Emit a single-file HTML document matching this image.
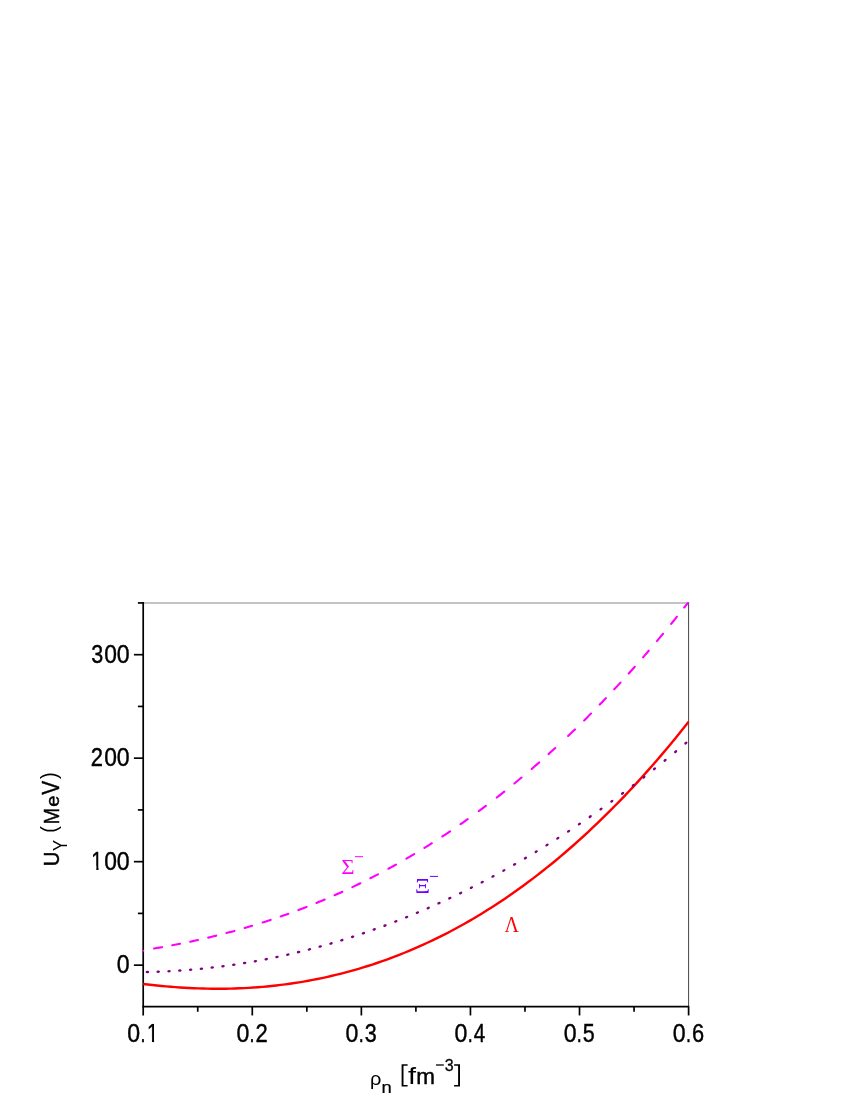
<!DOCTYPE html>
<html><head><meta charset="utf-8"><style>
html,body{margin:0;padding:0;background:#fff;}
svg{display:block;font-family:"Liberation Sans",sans-serif;}
.k{stroke:#000;stroke-width:0.25px;}
</style></head><body>
<svg width="850" height="1100" viewBox="0 0 850 1100">
<defs><clipPath id="one"><path d="M7 -75 L35.2 -75 L35.2 2 L24.6 2 L24.6 -13.5 L7 -13.5 Z"/></clipPath><clipPath id="plot"><rect x="142.7" y="602.25" width="546.4000000000001" height="403.5999999999999"/></clipPath></defs>
<rect width="850" height="1100" fill="#fff"/>
<line x1="143.2" y1="602.95" x2="689.1" y2="602.95" stroke="#b0b0b0" stroke-width="1.4"/>
<line x1="688.6" y1="602.45" x2="688.6" y2="1006.55" stroke="#444" stroke-width="1"/>
<line x1="143.2" y1="602.1" x2="143.2" y2="1015.4499999999999" stroke="#000" stroke-width="1.7"/>
<line x1="142.35" y1="1006.55" x2="689.2" y2="1006.55" stroke="#000" stroke-width="1.7"/>
<line x1="133.89999999999998" y1="965.16" x2="143.2" y2="965.16" stroke="#000" stroke-width="1.7"/>
<line x1="133.89999999999998" y1="861.67" x2="143.2" y2="861.67" stroke="#000" stroke-width="1.7"/>
<line x1="133.89999999999998" y1="758.18" x2="143.2" y2="758.18" stroke="#000" stroke-width="1.7"/>
<line x1="133.89999999999998" y1="654.69" x2="143.2" y2="654.69" stroke="#000" stroke-width="1.7"/>
<line x1="137.89999999999998" y1="913.41" x2="143.2" y2="913.41" stroke="#000" stroke-width="1.7"/>
<line x1="137.89999999999998" y1="809.92" x2="143.2" y2="809.92" stroke="#000" stroke-width="1.7"/>
<line x1="137.89999999999998" y1="706.44" x2="143.2" y2="706.44" stroke="#000" stroke-width="1.7"/>
<line x1="137.89999999999998" y1="602.95" x2="143.2" y2="602.95" stroke="#000" stroke-width="1.7"/>
<line x1="252.28" y1="1006.55" x2="252.28" y2="1015.4499999999999" stroke="#000" stroke-width="1.7"/>
<line x1="361.36" y1="1006.55" x2="361.36" y2="1015.4499999999999" stroke="#000" stroke-width="1.7"/>
<line x1="470.44" y1="1006.55" x2="470.44" y2="1015.4499999999999" stroke="#000" stroke-width="1.7"/>
<line x1="579.52" y1="1006.55" x2="579.52" y2="1015.4499999999999" stroke="#000" stroke-width="1.7"/>
<line x1="688.60" y1="1006.55" x2="688.60" y2="1015.4499999999999" stroke="#000" stroke-width="1.7"/>
<line x1="197.74" y1="1006.55" x2="197.74" y2="1011.75" stroke="#000" stroke-width="1.7"/>
<line x1="306.82" y1="1006.55" x2="306.82" y2="1011.75" stroke="#000" stroke-width="1.7"/>
<line x1="415.90" y1="1006.55" x2="415.90" y2="1011.75" stroke="#000" stroke-width="1.7"/>
<line x1="524.98" y1="1006.55" x2="524.98" y2="1011.75" stroke="#000" stroke-width="1.7"/>
<line x1="634.06" y1="1006.55" x2="634.06" y2="1011.75" stroke="#000" stroke-width="1.7"/>
<path d="M143.20,983.94 L147.78,984.50 L152.37,985.03 L156.95,985.53 L161.53,985.99 L166.12,986.41 L170.70,986.81 L175.28,987.16 L179.87,987.48 L184.45,987.77 L189.03,988.02 L193.62,988.23 L198.20,988.41 L202.78,988.55 L207.36,988.65 L211.95,988.72 L216.53,988.75 L221.11,988.74 L225.70,988.69 L230.28,988.60 L234.86,988.47 L239.45,988.30 L244.03,988.09 L248.61,987.84 L253.20,987.55 L257.78,987.22 L262.36,986.85 L266.95,986.43 L271.53,985.98 L276.11,985.48 L280.70,984.93 L285.28,984.35 L289.86,983.72 L294.45,983.04 L299.03,982.33 L303.61,981.56 L308.19,980.76 L312.78,979.90 L317.36,979.00 L321.94,978.06 L326.53,977.07 L331.11,976.03 L335.69,974.94 L340.28,973.81 L344.86,972.63 L349.44,971.40 L354.03,970.12 L358.61,968.79 L363.19,967.42 L367.78,965.99 L372.36,964.52 L376.94,962.99 L381.53,961.41 L386.11,959.79 L390.69,958.11 L395.28,956.38 L399.86,954.59 L404.44,952.76 L409.03,950.87 L413.61,948.93 L418.19,946.93 L422.77,944.88 L427.36,942.78 L431.94,940.62 L436.52,938.41 L441.11,936.14 L445.69,933.82 L450.27,931.44 L454.86,929.00 L459.44,926.51 L464.02,923.96 L468.61,921.35 L473.19,918.69 L477.77,915.96 L482.36,913.18 L486.94,910.34 L491.52,907.44 L496.11,904.48 L500.69,901.47 L505.27,898.39 L509.86,895.25 L514.44,892.05 L519.02,888.79 L523.61,885.46 L528.19,882.08 L532.77,878.63 L537.35,875.12 L541.94,871.55 L546.52,867.91 L551.10,864.21 L555.69,860.45 L560.27,856.62 L564.85,852.72 L569.44,848.77 L574.02,844.74 L578.60,840.65 L583.19,836.50 L587.77,832.27 L592.35,827.98 L596.94,823.63 L601.52,819.20 L606.10,814.71 L610.69,810.15 L615.27,805.52 L619.85,800.82 L624.44,796.06 L629.02,791.22 L633.60,786.31 L638.18,781.34 L642.77,776.29 L647.35,771.17 L651.93,765.98 L656.52,760.72 L661.10,755.38 L665.68,749.97 L670.27,744.49 L674.85,738.94 L679.43,733.31 L684.02,727.61 L688.60,721.84" fill="none" stroke="#ff0000" stroke-width="2.4"/>
<path d="M154.05,948.53 L156.72,948.08 L159.38,947.63 L162.05,947.16 M172.25,945.30 L174.85,944.81 L177.45,944.30 L180.05,943.79 M190.25,941.69 L192.82,941.14 L195.38,940.58 L197.95,940.01 M208.25,937.64 L210.92,937.00 L213.58,936.35 L216.25,935.69 M226.45,933.07 L229.12,932.36 L231.78,931.64 L234.45,930.91 M244.65,928.02 L247.12,927.29 L249.58,926.56 L252.05,925.82 M262.65,922.52 L265.32,921.67 L267.98,920.80 L270.65,919.92 M280.75,916.48 L283.28,915.59 L285.82,914.69 L288.35,913.78 M298.45,910.05 L301.15,909.02 L303.85,907.98 L306.55,906.93 M316.45,902.96 L319.18,901.84 L321.92,900.70 L324.65,899.55 M334.65,895.22 L337.22,894.08 L339.78,892.93 L342.35,891.76 M352.35,887.11 L355.02,885.84 L357.68,884.55 L360.35,883.26 M370.45,878.22 L372.95,876.94 L375.45,875.65 L377.95,874.35 M388.45,868.74 L390.95,867.38 L393.45,866.00 L395.95,864.61 M406.45,858.63 L409.02,857.13 L411.58,855.62 L414.15,854.10 M424.45,847.85 L426.92,846.32 L429.38,844.78 L431.85,843.23 M442.35,836.46 L444.92,834.77 L447.48,833.07 L450.05,831.35 M460.55,824.18 L462.92,822.53 L465.28,820.86 L467.65,819.19 M478.75,811.16 L481.12,809.41 L483.48,807.65 L485.85,805.88 M496.75,797.54 L499.25,795.59 L501.75,793.63 L504.25,791.65 M514.35,783.50 L516.75,781.53 L519.15,779.55 L521.55,777.55 M531.65,768.98 L534.15,766.82 L536.65,764.65 L539.15,762.46 M548.55,754.10 L550.78,752.08 L553.02,750.04 L555.25,748.00 M568.15,735.94 L570.42,733.78 L572.68,731.60 L574.95,729.41 M584.15,720.39 L586.42,718.14 L588.68,715.87 L590.95,713.59 M599.75,704.60 L601.82,702.45 L603.88,700.30 L605.95,698.14 M614.25,689.33 L616.32,687.11 L618.38,684.88 L620.45,682.64 M628.75,673.51 L630.75,671.28 L632.75,669.04 L634.75,666.79 M643.05,657.33 L644.95,655.14 L646.85,652.94 L648.75,650.73 M656.95,641.06 L658.98,638.64 L661.02,636.20 L663.05,633.75 M671.15,623.88 L673.08,621.50 L675.02,619.10 L676.95,616.70 M684.25,607.51 L685.72,605.65 L687.18,603.78 L688.65,601.91" fill="none" stroke="#ff00ff" stroke-width="2.1" stroke-linecap="round" clip-path="url(#plot)"/>
<circle cx="143.2" cy="950.7" r="1.0" fill="#ff00ff"/>
<ellipse cx="147.40" cy="972.00" rx="1.8" ry="1.25" fill="#800080" transform="rotate(-1.3 147.40 972.00)"/>
<ellipse cx="158.20" cy="971.67" rx="1.8" ry="1.25" fill="#800080" transform="rotate(-2.2 158.20 971.67)"/>
<ellipse cx="169.00" cy="971.18" rx="1.8" ry="1.25" fill="#800080" transform="rotate(-3.0 169.00 971.18)"/>
<ellipse cx="179.80" cy="970.52" rx="1.8" ry="1.25" fill="#800080" transform="rotate(-3.9 179.80 970.52)"/>
<ellipse cx="190.60" cy="969.70" rx="1.8" ry="1.25" fill="#800080" transform="rotate(-4.8 190.60 969.70)"/>
<ellipse cx="201.40" cy="968.70" rx="1.8" ry="1.25" fill="#800080" transform="rotate(-5.7 201.40 968.70)"/>
<ellipse cx="212.20" cy="967.54" rx="1.8" ry="1.25" fill="#800080" transform="rotate(-6.6 212.20 967.54)"/>
<ellipse cx="223.00" cy="966.20" rx="1.8" ry="1.25" fill="#800080" transform="rotate(-7.5 223.00 966.20)"/>
<ellipse cx="233.80" cy="964.70" rx="1.8" ry="1.25" fill="#800080" transform="rotate(-8.4 233.80 964.70)"/>
<ellipse cx="244.60" cy="963.03" rx="1.8" ry="1.25" fill="#800080" transform="rotate(-9.3 244.60 963.03)"/>
<ellipse cx="255.40" cy="961.18" rx="1.8" ry="1.25" fill="#800080" transform="rotate(-10.1 255.40 961.18)"/>
<ellipse cx="266.20" cy="959.16" rx="1.8" ry="1.25" fill="#800080" transform="rotate(-11.0 266.20 959.16)"/>
<ellipse cx="277.00" cy="956.97" rx="1.8" ry="1.25" fill="#800080" transform="rotate(-11.9 277.00 956.97)"/>
<ellipse cx="287.80" cy="954.61" rx="1.8" ry="1.25" fill="#800080" transform="rotate(-12.8 287.80 954.61)"/>
<ellipse cx="298.60" cy="952.08" rx="1.8" ry="1.25" fill="#800080" transform="rotate(-13.6 298.60 952.08)"/>
<ellipse cx="309.40" cy="949.37" rx="1.8" ry="1.25" fill="#800080" transform="rotate(-14.5 309.40 949.37)"/>
<ellipse cx="320.20" cy="946.49" rx="1.8" ry="1.25" fill="#800080" transform="rotate(-15.4 320.20 946.49)"/>
<ellipse cx="331.00" cy="943.44" rx="1.8" ry="1.25" fill="#800080" transform="rotate(-16.2 331.00 943.44)"/>
<ellipse cx="341.80" cy="940.20" rx="1.8" ry="1.25" fill="#800080" transform="rotate(-17.1 341.80 940.20)"/>
<ellipse cx="352.60" cy="936.80" rx="1.8" ry="1.25" fill="#800080" transform="rotate(-17.9 352.60 936.80)"/>
<ellipse cx="363.40" cy="933.22" rx="1.8" ry="1.25" fill="#800080" transform="rotate(-18.8 363.40 933.22)"/>
<ellipse cx="374.20" cy="929.46" rx="1.8" ry="1.25" fill="#800080" transform="rotate(-19.6 374.20 929.46)"/>
<ellipse cx="385.00" cy="925.53" rx="1.8" ry="1.25" fill="#800080" transform="rotate(-20.4 385.00 925.53)"/>
<ellipse cx="395.80" cy="921.42" rx="1.8" ry="1.25" fill="#800080" transform="rotate(-21.2 395.80 921.42)"/>
<ellipse cx="406.60" cy="917.13" rx="1.8" ry="1.25" fill="#800080" transform="rotate(-22.1 406.60 917.13)"/>
<ellipse cx="417.40" cy="912.66" rx="1.8" ry="1.25" fill="#800080" transform="rotate(-22.9 417.40 912.66)"/>
<ellipse cx="428.20" cy="908.02" rx="1.8" ry="1.25" fill="#800080" transform="rotate(-23.7 428.20 908.02)"/>
<ellipse cx="439.00" cy="903.19" rx="1.8" ry="1.25" fill="#800080" transform="rotate(-24.5 439.00 903.19)"/>
<ellipse cx="449.80" cy="898.19" rx="1.8" ry="1.25" fill="#800080" transform="rotate(-25.2 449.80 898.19)"/>
<ellipse cx="460.60" cy="893.01" rx="1.8" ry="1.25" fill="#800080" transform="rotate(-26.0 460.60 893.01)"/>
<ellipse cx="471.40" cy="887.65" rx="1.8" ry="1.25" fill="#800080" transform="rotate(-26.8 471.40 887.65)"/>
<ellipse cx="482.20" cy="882.10" rx="1.8" ry="1.25" fill="#800080" transform="rotate(-27.6 482.20 882.10)"/>
<ellipse cx="493.00" cy="876.38" rx="1.8" ry="1.25" fill="#800080" transform="rotate(-28.3 493.00 876.38)"/>
<ellipse cx="503.80" cy="870.47" rx="1.8" ry="1.25" fill="#800080" transform="rotate(-29.0 503.80 870.47)"/>
<ellipse cx="514.60" cy="864.38" rx="1.8" ry="1.25" fill="#800080" transform="rotate(-29.8 514.60 864.38)"/>
<ellipse cx="525.40" cy="858.11" rx="1.8" ry="1.25" fill="#800080" transform="rotate(-30.5 525.40 858.11)"/>
<ellipse cx="536.20" cy="851.65" rx="1.8" ry="1.25" fill="#800080" transform="rotate(-31.2 536.20 851.65)"/>
<ellipse cx="547.00" cy="845.01" rx="1.8" ry="1.25" fill="#800080" transform="rotate(-31.9 547.00 845.01)"/>
<ellipse cx="557.80" cy="838.19" rx="1.8" ry="1.25" fill="#800080" transform="rotate(-32.6 557.80 838.19)"/>
<ellipse cx="568.60" cy="831.18" rx="1.8" ry="1.25" fill="#800080" transform="rotate(-33.3 568.60 831.18)"/>
<ellipse cx="579.40" cy="823.99" rx="1.8" ry="1.25" fill="#800080" transform="rotate(-34.0 579.40 823.99)"/>
<ellipse cx="590.20" cy="816.61" rx="1.8" ry="1.25" fill="#800080" transform="rotate(-34.7 590.20 816.61)"/>
<ellipse cx="601.00" cy="809.05" rx="1.8" ry="1.25" fill="#800080" transform="rotate(-35.3 601.00 809.05)"/>
<ellipse cx="611.80" cy="801.30" rx="1.8" ry="1.25" fill="#800080" transform="rotate(-36.0 611.80 801.30)"/>
<ellipse cx="622.60" cy="793.36" rx="1.8" ry="1.25" fill="#800080" transform="rotate(-36.6 622.60 793.36)"/>
<ellipse cx="633.30" cy="785.31" rx="1.8" ry="1.25" fill="#800080" transform="rotate(-37.3 633.30 785.31)"/>
<ellipse cx="643.90" cy="777.16" rx="1.8" ry="1.25" fill="#800080" transform="rotate(-37.9 643.90 777.16)"/>
<ellipse cx="654.50" cy="768.82" rx="1.8" ry="1.25" fill="#800080" transform="rotate(-38.5 654.50 768.82)"/>
<ellipse cx="665.10" cy="760.30" rx="1.8" ry="1.25" fill="#800080" transform="rotate(-39.1 665.10 760.30)"/>
<ellipse cx="675.60" cy="751.68" rx="1.8" ry="1.25" fill="#800080" transform="rotate(-39.7 675.60 751.68)"/>
<ellipse cx="685.90" cy="743.05" rx="1.8" ry="1.25" fill="#800080" transform="rotate(-40.2 685.90 743.05)"/>
<g style="opacity:0.999">
<text transform="matrix(0.2312 0 0 0.2490 116.70 973.06)" font-size="100" font-family="Liberation Sans" fill="#000" stroke="#000" stroke-width="1.67" stroke-linejoin="round">0</text>
<text transform="matrix(0.2312 0 0 0.2490 116.70 869.57)" font-size="100" font-family="Liberation Sans" fill="#000" stroke="#000" stroke-width="1.67" stroke-linejoin="round">0</text>
<text transform="matrix(0.2280 0 0 0.2490 104.26 869.57)" font-size="100" font-family="Liberation Sans" fill="#000" stroke="#000" stroke-width="1.68" stroke-linejoin="round">0</text>
<text transform="matrix(0.2134 0 0 0.2490 91.10 869.57)" font-size="100" font-family="Liberation Sans" fill="#000" stroke="#000" stroke-width="1.73" stroke-linejoin="round" clip-path="url(#one)">1</text>
<text transform="matrix(0.2312 0 0 0.2490 116.70 766.08)" font-size="100" font-family="Liberation Sans" fill="#000" stroke="#000" stroke-width="1.67" stroke-linejoin="round">0</text>
<text transform="matrix(0.2280 0 0 0.2490 104.26 766.08)" font-size="100" font-family="Liberation Sans" fill="#000" stroke="#000" stroke-width="1.68" stroke-linejoin="round">0</text>
<text transform="matrix(0.2195 0 0 0.2490 90.85 766.08)" font-size="100" font-family="Liberation Sans" fill="#000" stroke="#000" stroke-width="1.71" stroke-linejoin="round">2</text>
<text transform="matrix(0.2312 0 0 0.2490 116.70 662.59)" font-size="100" font-family="Liberation Sans" fill="#000" stroke="#000" stroke-width="1.67" stroke-linejoin="round">0</text>
<text transform="matrix(0.2280 0 0 0.2490 104.26 662.59)" font-size="100" font-family="Liberation Sans" fill="#000" stroke="#000" stroke-width="1.68" stroke-linejoin="round">0</text>
<text transform="matrix(0.2151 0 0 0.2490 91.13 662.59)" font-size="100" font-family="Liberation Sans" fill="#000" stroke="#000" stroke-width="1.72" stroke-linejoin="round">3</text>
<text transform="matrix(0.2312 0 0 0.2490 127.35 1042.05)" font-size="100" font-family="Liberation Sans" fill="#000" stroke="#000" stroke-width="1.67" stroke-linejoin="round">0</text>
<text transform="matrix(0.1785 0 0 0.2490 140.52 1042.05)" font-size="100" font-family="Liberation Sans" fill="#000" stroke="#000" stroke-width="1.87" stroke-linejoin="round">.</text>
<text transform="matrix(0.2134 0 0 0.2490 146.70 1042.05)" font-size="100" font-family="Liberation Sans" fill="#000" stroke="#000" stroke-width="1.73" stroke-linejoin="round" clip-path="url(#one)">1</text>
<text transform="matrix(0.2312 0 0 0.2490 236.43 1042.05)" font-size="100" font-family="Liberation Sans" fill="#000" stroke="#000" stroke-width="1.67" stroke-linejoin="round">0</text>
<text transform="matrix(0.1785 0 0 0.2490 249.60 1042.05)" font-size="100" font-family="Liberation Sans" fill="#000" stroke="#000" stroke-width="1.87" stroke-linejoin="round">.</text>
<text transform="matrix(0.2204 0 0 0.2490 255.50 1042.05)" font-size="100" font-family="Liberation Sans" fill="#000" stroke="#000" stroke-width="1.70" stroke-linejoin="round">2</text>
<text transform="matrix(0.2312 0 0 0.2490 345.51 1042.05)" font-size="100" font-family="Liberation Sans" fill="#000" stroke="#000" stroke-width="1.67" stroke-linejoin="round">0</text>
<text transform="matrix(0.1785 0 0 0.2490 358.68 1042.05)" font-size="100" font-family="Liberation Sans" fill="#000" stroke="#000" stroke-width="1.87" stroke-linejoin="round">.</text>
<text transform="matrix(0.2151 0 0 0.2490 364.73 1042.05)" font-size="100" font-family="Liberation Sans" fill="#000" stroke="#000" stroke-width="1.72" stroke-linejoin="round">3</text>
<text transform="matrix(0.2312 0 0 0.2490 454.59 1042.05)" font-size="100" font-family="Liberation Sans" fill="#000" stroke="#000" stroke-width="1.67" stroke-linejoin="round">0</text>
<text transform="matrix(0.1785 0 0 0.2490 467.76 1042.05)" font-size="100" font-family="Liberation Sans" fill="#000" stroke="#000" stroke-width="1.87" stroke-linejoin="round">.</text>
<text transform="matrix(0.2064 0 0 0.2490 473.78 1042.05)" font-size="100" font-family="Liberation Sans" fill="#000" stroke="#000" stroke-width="1.76" stroke-linejoin="round">4</text>
<text transform="matrix(0.2312 0 0 0.2490 563.67 1042.05)" font-size="100" font-family="Liberation Sans" fill="#000" stroke="#000" stroke-width="1.67" stroke-linejoin="round">0</text>
<text transform="matrix(0.1785 0 0 0.2490 576.84 1042.05)" font-size="100" font-family="Liberation Sans" fill="#000" stroke="#000" stroke-width="1.87" stroke-linejoin="round">.</text>
<text transform="matrix(0.2151 0 0 0.2490 582.72 1042.05)" font-size="100" font-family="Liberation Sans" fill="#000" stroke="#000" stroke-width="1.72" stroke-linejoin="round">5</text>
<text transform="matrix(0.2312 0 0 0.2490 672.75 1042.05)" font-size="100" font-family="Liberation Sans" fill="#000" stroke="#000" stroke-width="1.67" stroke-linejoin="round">0</text>
<text transform="matrix(0.1785 0 0 0.2490 685.92 1042.05)" font-size="100" font-family="Liberation Sans" fill="#000" stroke="#000" stroke-width="1.87" stroke-linejoin="round">.</text>
<text transform="matrix(0.2180 0 0 0.2490 692.04 1042.05)" font-size="100" font-family="Liberation Sans" fill="#000" stroke="#000" stroke-width="1.71" stroke-linejoin="round">6</text>
<text transform="matrix(0.2003 0.0000 0.0000 0.1850 370.11 1084.66)" font-size="100" font-family="Liberation Sans" fill="#000">ρ</text>
<text transform="matrix(0.1848 0.0000 0.0000 0.1589 381.60 1093.08)" font-size="100" font-family="Liberation Sans" fill="#000" stroke="#000" stroke-width="1.45" stroke-linejoin="round">n</text>
<path d="M407.6,1064.2 H401.6 V1086.5 H407.6 V1084.95 H403.5 V1065.75 H407.6 Z" fill="#000"/>
<text transform="matrix(0.2904 0.0000 0.0000 0.2363 408.09 1083.70)" font-size="100" font-family="Liberation Sans" fill="#000">f</text>
<text transform="matrix(0.2248 0.0000 0.0000 0.2184 416.33 1083.67)" font-size="100" font-family="Liberation Sans" fill="#000" stroke="#000" stroke-width="2.03" stroke-linejoin="round">m</text>
<line x1="436.0" x2="443.8" y1="1065.0" y2="1065.0" stroke="#000" stroke-width="1.3"/>
<text transform="matrix(0.1603 0.0000 0.0000 0.1737 444.64 1071.28)" font-size="100" font-family="Liberation Sans" fill="#000" stroke="#000" stroke-width="1.80" stroke-linejoin="round">3</text>
<path d="M454.1,1064.2 H460.0 V1086.5 H454.1 V1084.95 H458.1 V1065.75 H454.1 Z" fill="#000"/>
<text transform="matrix(0.0000 -0.1999 0.2168 0.0000 56.41 779.02)" font-size="100" font-family="Liberation Sans" fill="#000">)</text>
<text transform="matrix(0.0000 -0.2091 0.2362 0.0000 59.07 794.83)" font-size="100" font-family="Liberation Sans" fill="#000" stroke="#000" stroke-width="2.02" stroke-linejoin="round">V</text>
<text transform="matrix(0.0000 -0.1993 0.1926 0.0000 59.19 806.72)" font-size="100" font-family="Liberation Sans" fill="#000" stroke="#000" stroke-width="2.30" stroke-linejoin="round">e</text>
<text transform="matrix(0.0000 -0.2011 0.2231 0.0000 58.88 824.62)" font-size="100" font-family="Liberation Sans" fill="#000" stroke="#000" stroke-width="2.12" stroke-linejoin="round">M</text>
<text transform="matrix(0.0000 -0.1999 0.2168 0.0000 56.41 832.74)" font-size="100" font-family="Liberation Sans" fill="#000">(</text>
<text transform="matrix(0.0000 -0.1653 0.1948 0.0000 66.60 850.96)" font-size="100" font-family="Liberation Sans" fill="#000">Y</text>
<text transform="matrix(0.0000 -0.2016 0.2292 0.0000 59.15 866.23)" font-size="100" font-family="Liberation Sans" fill="#000" stroke="#000" stroke-width="2.09" stroke-linejoin="round">U</text>
<text transform="matrix(0.2294 0.0000 0.0000 0.2083 341.30 873.70)" font-size="100" font-family="Liberation Serif" fill="#ff00ff">Σ</text>
<line x1="354.9" x2="363.0" y1="856.7" y2="856.7" stroke="#ff00ff" stroke-width="1"/>
<text transform="matrix(0.2336 0.0000 0.0000 0.2062 414.95 892.60)" font-size="100" font-family="Liberation Serif" fill="#7000ff">Ξ</text>
<line x1="429.9" x2="438.0" y1="876.4" y2="876.4" stroke="#7000ff" stroke-width="1"/>
<text transform="matrix(0.2000 0.0000 0.0000 0.2203 504.50 931.60)" font-size="100" font-family="Liberation Serif" fill="#ff0000">Λ</text>
</g>
</svg></body></html>
